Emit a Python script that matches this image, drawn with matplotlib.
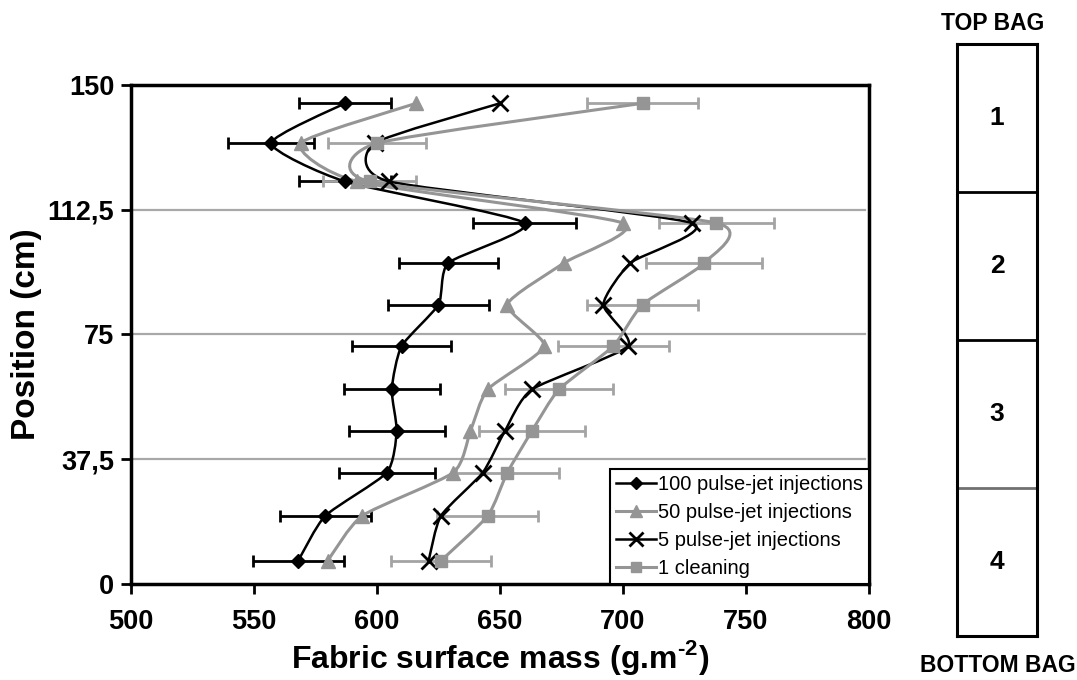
import numpy as np
import matplotlib
matplotlib.use("Agg")
import matplotlib.pyplot as plt
from matplotlib.path import Path
from matplotlib.patches import PathPatch
from matplotlib.lines import Line2D

plt.rcParams['font.family'] = ['Liberation Sans', 'DejaVu Sans']
plt.rcParams['mathtext.fontset'] = 'custom'
plt.rcParams['mathtext.bf'] = 'Liberation Sans:bold'
plt.rcParams['mathtext.rm'] = 'Liberation Sans'

# Position along the bag (cm) and fabric surface mass (g.m-2) for each test
position = [7, 20.5, 33.5, 46, 58.5, 71.5, 84, 96.5, 108.5, 121, 132.5, 144.5]
mass_100 = [568, 579, 604, 608, 606, 610, 625, 629, 660, 587, 557, 587]
err_100 = [18.5, 18.5, 19.5, 19.5, 19.5, 20, 20.5, 20, 21, 18.5, 17.5, 18.5]
mass_50 = [580, 594, 631, 638, 645, 668, 653, 676, 700, 592, 569, 616]
mass_5 = [621, 626, 643, 652, 663, 702, 692, 703, 728, 605, 599, 650]
mass_1 = [626, 645, 653, 663, 674, 696, 708, 733, 738, 597, 600, 708]
err_1 = [20.5, 20.5, 21, 21.5, 22, 22.5, 22.5, 23.5, 23.5, 19, 20, 22.5]

labels = ['100 pulse-jet injections', '50 pulse-jet injections',
          '5 pulse-jet injections', '1 cleaning']
x_ticks = [500, 550, 600, 650, 700, 750, 800]
y_ticks = [0, 37.5, 75, 112.5, 150]
y_ticklabels = ['0', '37,5', '75', '112,5', '150']
bag_sections = ['1', '2', '3', '4']

BLACK = '#000000'
GREY = '#959595'


def smooth_path(xs, ys, k=0.1):
    # smoothed line (cubic Bezier, Catmull-Rom tangents) through the points
    pts = np.column_stack([xs, ys]).astype(float)
    n = len(pts)
    verts = [pts[0]]
    codes = [Path.MOVETO]
    for i in range(n - 1):
        p0 = pts[i - 1] if i > 0 else pts[i]
        p1 = pts[i]
        p2 = pts[i + 1]
        p3 = pts[i + 2] if i + 2 < n else pts[i + 1]
        verts += [p1 + (p2 - p0) * k, p2 - (p3 - p1) * k, p2]
        codes += [Path.CURVE4] * 3
    return Path(verts, codes)


fig = plt.figure(figsize=(10.77, 6.8), dpi=100)
ax = fig.add_axes([0.1216, 0.1412, 0.6853, 0.7338])

series = [
    (mass_100, err_100, BLACK, 'D', 7, 1.8),
    (mass_50, None, GREY, '^', 9.5, 2.2),
    (mass_5, None, BLACK, 'x', 11, 1.8),
    (mass_1, err_1, GREY, 's', 8, 2.2),
]

handles = []
for (mass, err, col, mk, ms, lw), lab in zip(series, labels):
    if err is not None:
        ax.errorbar(mass, position, xerr=err, fmt='none',
                    ecolor=col if col == BLACK else '#a4a4a4',
                    elinewidth=2, capsize=4.5, capthick=2, zorder=2)
    ax.add_patch(PathPatch(smooth_path(mass, position), facecolor='none',
                           edgecolor=col, lw=lw, zorder=3))
    ax.plot(mass, position, ls='none', marker=mk, ms=ms, color=col,
            mec=col, mew=2 if mk == 'x' else 1, zorder=4)
    handles.append(Line2D([], [], color=col, lw=lw, marker=mk, ms=ms * 0.9,
                          mew=2 if mk == 'x' else 1))

ax.set_xlim(500, 800)
ax.set_ylim(0, 150)
ax.set_xticks(x_ticks)
ax.set_xticklabels([str(v) for v in x_ticks])
ax.set_yticks(y_ticks)
ax.set_yticklabels(y_ticklabels)
ax.tick_params(direction='out', length=7, width=2, labelsize=19.5, pad=5)
for t in ax.get_xticklabels() + ax.get_yticklabels():
    t.set_fontweight('bold')
ax.xaxis.set_tick_params(pad=11)

for y in [37.5, 75, 112.5]:
    ax.axhline(y, xmin=0, xmax=0.995, color='#a8a8a8', lw=1.6, zorder=1)

for s in ax.spines.values():
    s.set_linewidth(2.5)

ax.set_xlabel('Fabric surface mass (g.m$^{\\mathbf{\u2010 2}}$)', fontsize=23,
              fontweight='bold', labelpad=2)
ax.set_ylabel('Position (cm)', fontsize=24, fontweight='bold', labelpad=4)

leg = ax.legend(handles, labels, loc='lower right', borderaxespad=0,
                fontsize=14.5, handlelength=2.0, handletextpad=0.1,
                labelspacing=0.45, borderpad=0.3, fancybox=False,
                framealpha=1, edgecolor='black')
leg.get_frame().set_linewidth(1.5)

# bag sketch on the right
bag = fig.add_axes([957 / 1077, 44 / 680, 80 / 1077, 592 / 680])
bag.set_xlim(0, 1)
bag.set_ylim(0, 4)
bag.set_xticks([])
bag.set_yticks([])
for s in bag.spines.values():
    s.set_linewidth(2.2)
for i, name in enumerate(bag_sections):
    yc = 4 - i - 0.5
    bag.text(0.5, yc, name, ha='center', va='center', fontsize=19,
             fontweight='bold')
for yb, c in [(3, 'black'), (2, 'black'), (1, '#707070')]:
    bag.axhline(yb, color=c, lw=2)

fig.text(993 / 1077, 1 - 24 / 680, 'TOP BAG', ha='center', va='center',
         fontsize=16.5, fontweight='bold')
fig.text(998 / 1077, 1 - 666 / 680, 'BOTTOM BAG', ha='center', va='center',
         fontsize=16.5, fontweight='bold')

fig.savefig('out.png', dpi=100, facecolor='white')
